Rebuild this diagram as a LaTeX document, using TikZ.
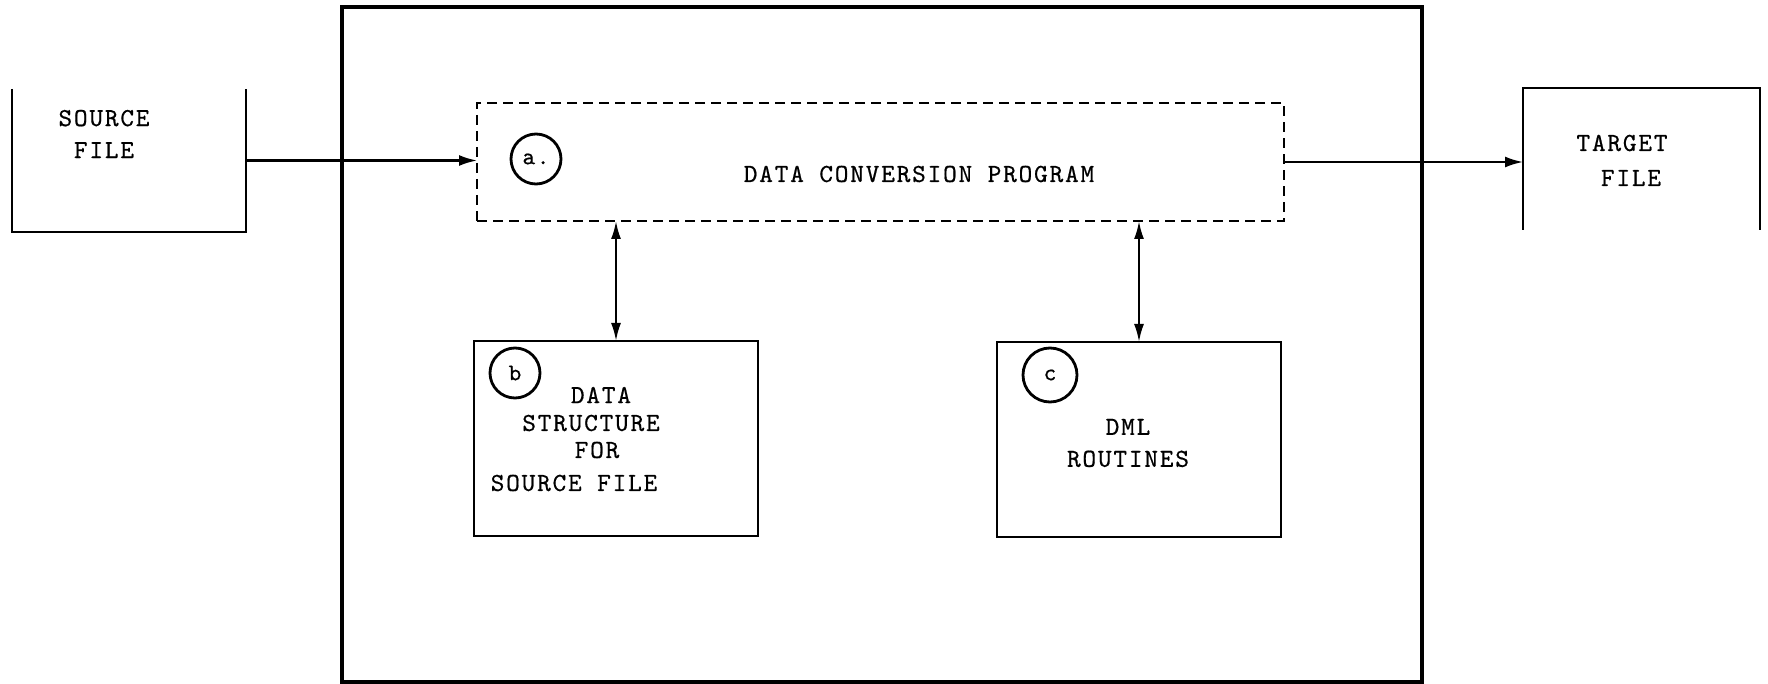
\documentclass[tikz,border=0pt]{standalone}
\usepackage{fontspec}
\newfontfamily\typewr{lmmono10-regular.otf}[FakeBold=0.6, LetterSpace=7]
\usetikzlibrary{arrows.meta,fit}
\begin{document}
\begin{tikzpicture}[x=0.5pt,y=-0.5pt,
  boxline/.style={line width=1.4pt},
  outerline/.style={line width=2pt},
  frame/.style={inner sep=0pt, outer sep=0pt},
  dashbox/.style={frame, draw, line width=1.4pt, dash pattern=on 5pt off 3pt},
  solidbox/.style={frame, draw, line width=1.4pt},
  tag/.style={circle, draw, line width=1.4pt, inner sep=0pt, minimum size=25pt,
    font=\typewr\fontsize{12}{12}\selectfont},
  lbl/.style={inner sep=0pt, font=\typewr\fontsize{13}{16}\selectfont},
  arr/.style={line width=1.1pt, -{Latex[length=9pt,width=5.5pt]}},
  dbl/.style={line width=1.1pt, {Latex[length=9pt,width=5pt]}-{Latex[length=9pt,width=5pt]}}]
\useasboundingbox (0,0) rectangle (1768,684);

% enclosing frame
\node[frame, draw, outerline, fit={(342,7) (1422,682)}] (outer) {};

% source file (open at the top)
\node[frame, fit={(12,89) (246,232)}] (src) {};
\draw[boxline] (src.north west) -- (src.south west) -- (src.south east) -- (src.north east);
\node[lbl, align=center] (srctext) at (104,134) {SOURCE\\FILE};

% target file (open at the bottom)
\node[frame, fit={(1523,88) (1760,230)}] (tgt) {};
\draw[boxline] (tgt.south west) -- (tgt.north west) -- (tgt.north east) -- (tgt.south east);
\node[lbl] (tgttop) at (1622,143) {TARGET};
\node[lbl] (tgtbot) at (1631,178) {FILE};

% conversion program
\node[dashbox, fit={(477,103) (1284,221)}] (conv) {};
\node[tag] (taga) at (536,159) {a.};
\node[lbl] (convtext) at (919,174) {DATA CONVERSION PROGRAM};

% data structure box
\node[solidbox, fit={(474,341) (758,536)}] (dsb) {};
\node[tag] (tagb) at (515,373) {b};
\node[lbl] (dsb1) at (601,395) {DATA};
\node[lbl] (dsb2) at (591,423) {STRUCTURE};
\node[lbl] (dsb3) at (597,450) {FOR};
\node[lbl] (dsb4) at (574,483) {SOURCE FILE};

% DML routines box
\node[solidbox, fit={(997,342) (1281,537)}] (dml) {};
\node[tag, minimum size=27pt] (tagc) at (1050,375) {c};
\node[lbl, align=center] (dmltext) at (1128,443) {DML\\ROUTINES};

% connectors
\draw[arr] (src.east) -- (src.east -| conv.west);
\draw[arr] (conv.east) -- (conv.east -| tgt.west);
\draw[dbl] (conv.south -| dsb.north) -- (dsb.north);
\draw[dbl] (conv.south -| dml.north) -- (dml.north);
\end{tikzpicture}
\end{document}
